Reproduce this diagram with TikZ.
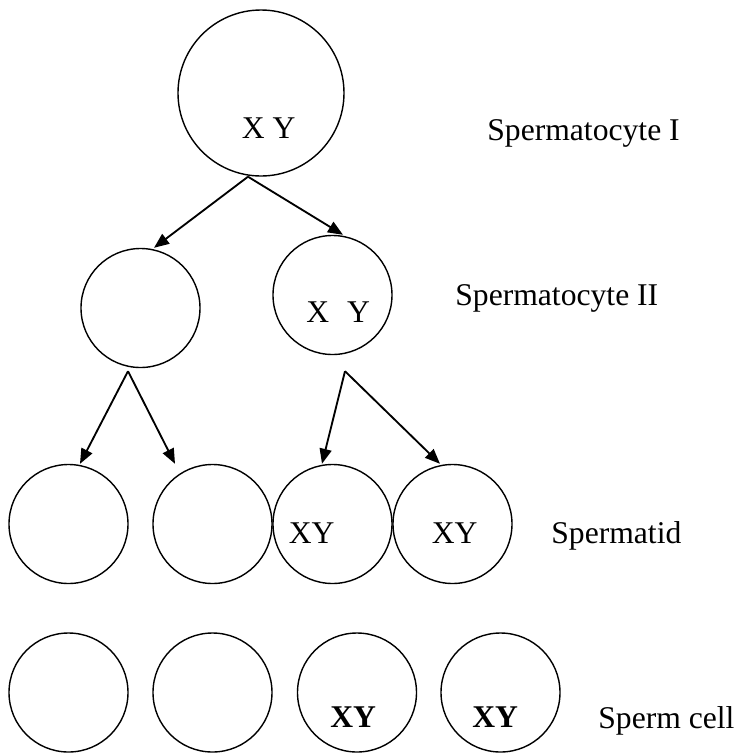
\documentclass[tikz,border=0pt]{standalone}
\usepackage{fontspec}
\setmainfont{Liberation Serif}
\usetikzlibrary{arrows.meta}
\begin{document}
\begin{tikzpicture}[
        cell/.style={draw, circle, line width=0.8pt, inner sep=0pt},
        bigcell/.style={cell, minimum size=3.32cm},
        smallcell/.style={cell, minimum size=2.38cm},
        chrom/.style={anchor=base west, inner sep=0pt, font=\fontsize{18}{22}\selectfont},
        stage/.style={anchor=base west, inner sep=0pt, font=\fontsize{18}{22}\selectfont},
        arr/.style={line width=1.05pt, -{Triangle[length=0.3cm, width=0.24cm]}}
    ]
    \useasboundingbox (0,0) rectangle (14.76,-15.12);

    % cells
    \node[bigcell] (sc1) at (5.22,-1.86) {};
    \node[smallcell] (sc2a) at (2.81,-6.16) {};
    \node[smallcell] (sc2b) at (6.65,-5.90) {};
    \node[smallcell] (td1) at (1.37,-10.48) {};
    \node[smallcell] (td2) at (4.25,-10.48) {};
    \node[smallcell] (td3) at (6.65,-10.48) {};
    \node[smallcell] (td4) at (9.05,-10.48) {};
    \node[smallcell] (sp1) at (1.37,-13.85) {};
    \node[smallcell] (sp2) at (4.25,-13.85) {};
    \node[smallcell] (sp3) at (7.14,-13.85) {};
    \node[smallcell] (sp4) at (10.01,-13.85) {};

    % chromosomes
    \node[chrom] (x1) at (4.83,-2.76) {X Y};
    \node[chrom] (x2) at (6.12,-6.44) {X\hspace{0.36cm}Y};
    \node[chrom] (x3) at (5.77,-10.86) {XY};
    \node[chrom] (x4) at (8.63,-10.86) {XY};
    \node[chrom] (x5) at (6.60,-14.54) {\textbf{XY}};
    \node[chrom] (x6) at (9.44,-14.54) {\textbf{XY}};

    % stages
    \node[stage] (lab1) at (9.74,-2.80) {Spermatocyte I};
    \node[stage] (lab2) at (9.10,-6.10) {Spermatocyte II};
    \node[stage] (lab3) at (11.02,-10.86) {Spermatid};
    \node[stage] (lab4) at (11.96,-14.56) {Sperm cell};

    % divisions
    \coordinate (fork1) at ([xshift=-0.26cm]sc1.south);
    \coordinate (fork2) at ([xshift=-0.25cm, yshift=-0.06cm]sc2a.south);
    \coordinate (fork3) at ([xshift=0.25cm, yshift=-0.32cm]sc2b.south);
    \draw[arr] (fork1) -- ([xshift=0.27cm]sc2a.north);
    \draw[arr] (fork1) -- ([xshift=0.21cm]sc2b.north);
    \draw[arr] (fork2) -- ([xshift=0.23cm]td1.north);
    \draw[arr] (fork2) -- ([xshift=-0.75cm]td2.north);
    \draw[arr] (fork3) -- ([xshift=-0.21cm]td3.north);
    \draw[arr] (fork3) -- ([xshift=-0.25cm]td4.north);
\end{tikzpicture}
\end{document}
